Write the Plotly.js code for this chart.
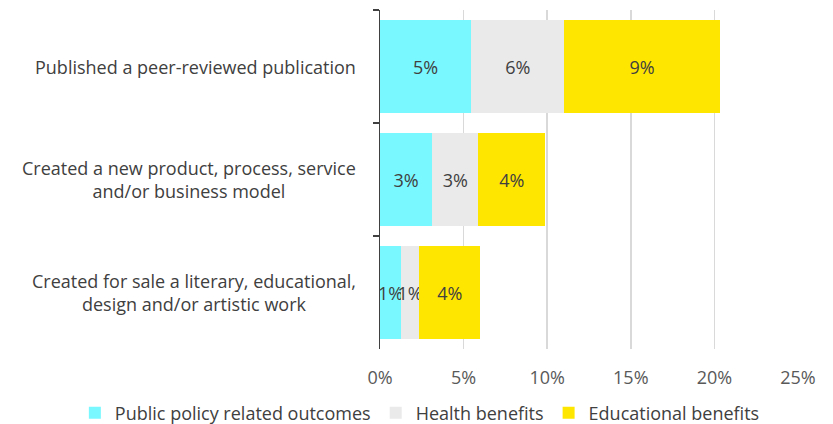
<!DOCTYPE html>
<html>
<head>
<meta charset="utf-8">
<script src="https://cdn.plot.ly/plotly-3.0.1.min.js"></script>
<style>html,body{margin:0;padding:0;background:#fff;}#chart{width:833px;height:424px;}</style>
</head>
<body>
<div id="chart"></div>
<script>
const categories = [
  "Published a peer-reviewed publication",
  "Created a new product, process, service<br>and/or business model",
  "Created for sale a literary, educational,<br>design and/or artistic work"
];
const seriesNames = ["Public policy related outcomes", "Health benefits", "Educational benefits"];
const publicPolicy = [5.46, 3.12, 1.26];
const health = [5.57, 2.77, 1.08];
const educational = [9.29, 3.99, 3.67];
const xTickVals = [0, 5, 10, 15, 20, 25];
const xTickText = ["0%", "5%", "10%", "15%", "20%", "25%"];

const colors = ["#7AF8FF", "#EAEAEA", "#FFE600"];
const values = [publicPolicy, health, educational];
const FONT = "Open Sans, sans-serif";

const traces = values.map((v, i) => ({
  type: "bar",
  orientation: "h",
  name: seriesNames[i],
  x: v,
  y: categories,
  marker: {color: colors[i], line: {width: 0}},
  texttemplate: "%{x:.0f}%",
  textposition: "inside",
  insidetextanchor: "middle",
  textangle: 0,
  constraintext: "none",
  cliponaxis: false,
  textfont: {family: FONT, size: 18, color: "#404040"},
  hoverinfo: "x+name"
}));

const annotations = categories.map(c => ({
  xref: "paper", yref: "y",
  x: -0.052, y: c,
  xanchor: "right", yanchor: "middle",
  align: "center",
  text: c,
  showarrow: false,
  font: {family: FONT, size: 18, color: "#404040"}
}));

const layout = {
  width: 833, height: 424,
  margin: {l: 380, r: 35, t: 10, b: 75, autoexpand: false},
  barmode: "stack",
  bargap: 0.17,
  paper_bgcolor: "#fff",
  plot_bgcolor: "#fff",
  showlegend: true,
  legend: {
    orientation: "h",
    xref: "paper", yref: "paper",
    x: -0.73, xanchor: "left",
    y: -0.189, yanchor: "middle",
    itemwidth: 30,
    font: {family: FONT, size: 18, color: "#404040"},
    traceorder: "normal"
  },
  xaxis: {
    range: [0, 25],
    tickvals: xTickVals,
    ticktext: xTickText,
    showgrid: true,
    gridcolor: "#D9D9D9",
    gridwidth: 1.5,
    zeroline: false,
    showline: false,
    ticks: "outside",
    ticklen: 12,
    tickcolor: "rgba(0,0,0,0)",
    tickfont: {family: FONT, size: 18, color: "#595959"},
    fixedrange: true
  },
  yaxis: {
    type: "category",
    autorange: "reversed",
    showticklabels: false,
    showline: true,
    linecolor: "#404040",
    linewidth: 1.5,
    ticks: "outside",
    tickson: "boundaries",
    ticklen: 6,
    tickwidth: 1.5,
    tickcolor: "#404040",
    showgrid: false,
    zeroline: false,
    fixedrange: true
  },
  annotations: annotations
};

Plotly.newPlot("chart", traces, layout, {displayModeBar: false, staticPlot: true});
</script>
</body>
</html>
